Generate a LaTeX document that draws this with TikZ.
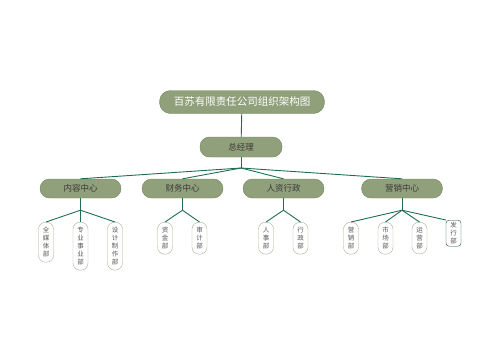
\documentclass[tikz,border=0pt]{standalone}
\usepackage{xcolor}
\usepackage{fontspec}
\newfontfamily\cjk{Noto Sans CJK SC}
\usetikzlibrary{positioning}
\definecolor{sage}{HTML}{8FA07A}
\definecolor{sageline}{HTML}{74865F}
\definecolor{linkgreen}{HTML}{1F6E52}
\definecolor{leafline}{HTML}{A3B294}
\definecolor{darktext}{HTML}{3A3A3A}

\tikzset{
  titlebox/.style={draw=sageline, fill=sage, rounded corners=11pt, minimum width=165pt,
    minimum height=23pt, inner sep=0pt, text=white, font=\cjk\fontsize{10.5}{12}\selectfont},
  headbox/.style={draw=sageline, fill=sage, rounded corners=9.5pt, minimum width=82pt,
    minimum height=20pt, inner sep=0pt, text=darktext, font=\cjk\fontsize{8.5}{10}\selectfont},
  deptbox/.style={headbox, minimum width=81pt, minimum height=19pt},
  unitbox/.style={draw=leafline, fill=white, rounded corners=7pt, minimum width=15pt,
    inner xsep=0pt, inner ysep=5pt, align=center, anchor=north, text=darktext!85,
    font=\cjk\fontsize{6.5}{8}\selectfont},
  pickedbox/.style={unitbox, draw=linkgreen!70!black, rounded corners=3pt, inner ysep=2pt},
  link/.style={draw=linkgreen, line width=0.9pt},
}

\begin{document}
\begin{tikzpicture}[x=1pt, y=-1pt]
    \useasboundingbox (0,0) rectangle (500,360);

    \node[titlebox] (corp) at (242,102) {百苏有限责任公司组织架构图};
    \node[headbox] (gm) at (241,147) {总经理};
    \coordinate (gmj) at (241,168);

    \node[deptbox] (content) at (80.5,188.5) {内容中心};
    \node[deptbox] (finance) at (182.5,188.5) {财务中心};
    \node[deptbox] (hr) at (283.5,188.5) {人资行政};
    \node[deptbox] (sales) at (402,188.5) {营销中心};

    \draw[link] (corp) -- (gm);
    \draw[link] (gm) -- (gmj);
    \foreach \d in {content,finance,hr,sales}
        \draw[link] (gmj) -- (\d.north);

    % branch points under each centre
    \foreach \d in {content,finance,hr,sales} {
        \coordinate (\d j) at ([yshift=-12pt]\d.south);
        \draw[link] (\d) -- (\d j);
    }

    \foreach \u/\x/\t/\d in {
        media/46/{全\\媒\\体\\部}/content,
        biz/80.5/{专\\业\\事\\业\\部}/content,
        design/115/{设\\计\\制\\作\\部}/content,
        fund/165/{资\\金\\部}/finance,
        audit/199.5/{审\\计\\部}/finance,
        staff/266/{人\\事\\部}/hr,
        admin/300.5/{行\\政\\部}/hr,
        mkt/351/{营\\销\\部}/sales,
        market/385.5/{市\\场\\部}/sales,
        ops/419.5/{运\\营\\部}/sales} {
        \node[unitbox] (\u) at (\x,222) {\t};
        \draw[link] (\d j) -- (\u.north);
    }
    \node[pickedbox] (issue) at (453.5,220) {发\\行\\部};
    \draw[link] (salesj) -- (issue.north west);
\end{tikzpicture}
\end{document}
